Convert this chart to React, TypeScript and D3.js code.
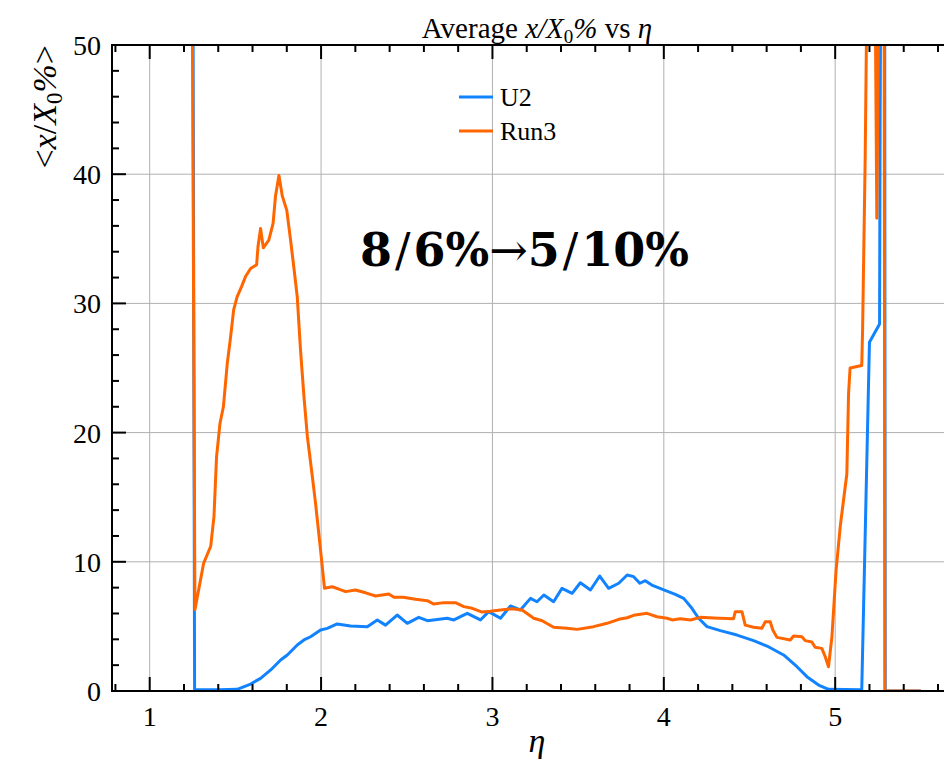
import React, { useRef, useEffect } from 'react';
import * as d3 from 'd3';

// U2 series (eta, <x/X0 %>)
const etaU2 = [1.25, 1.262, 1.4, 1.51, 1.589, 1.647, 1.706, 1.764, 1.803, 1.861, 1.9, 1.939, 1.997, 2.036, 2.094, 2.172, 2.27, 2.328, 2.376, 2.444, 2.503, 2.57, 2.62, 2.736, 2.775, 2.853, 2.93, 2.978, 3.047, 3.105, 3.163, 3.222, 3.26, 3.3, 3.357, 3.406, 3.465, 3.513, 3.572, 3.626, 3.678, 3.737, 3.786, 3.824, 3.86, 3.892, 3.93, 4.0, 4.067, 4.116, 4.164, 4.203, 4.252, 4.33, 4.427, 4.524, 4.602, 4.699, 4.777, 4.835, 4.903, 4.961, 5.155, 5.2, 5.259, 5.262, 5.27, 5.288, 5.292, 5.5];
const valU2 = [70, 0.1, 0.1, 0.13, 0.54, 0.98, 1.63, 2.4, 2.79, 3.56, 3.95, 4.2, 4.72, 4.85, 5.19, 5.03, 4.98, 5.5, 5.1, 5.88, 5.24, 5.7, 5.44, 5.63, 5.5, 6.01, 5.5, 6.14, 5.63, 6.58, 6.27, 7.17, 6.91, 7.43, 6.91, 7.95, 7.56, 8.38, 7.82, 8.9, 7.95, 8.34, 8.98, 8.85, 8.34, 8.54, 8.2, 7.82, 7.48, 7.17, 6.4, 5.63, 4.98, 4.67, 4.33, 3.9, 3.48, 2.79, 1.88, 1.11, 0.46, 0.13, 0.1, 27.0, 28.4, 43.1, 70, 70, 0, 0];

// Run3 series
const etaRun3 = [1.243, 1.264, 1.315, 1.356, 1.375, 1.39, 1.41, 1.43, 1.453, 1.472, 1.49, 1.51, 1.536, 1.56, 1.589, 1.624, 1.632, 1.647, 1.663, 1.695, 1.72, 1.734, 1.754, 1.774, 1.8, 1.822, 1.841, 1.861, 1.88, 1.9, 1.92, 1.949, 1.968, 1.997, 2.02, 2.065, 2.1, 2.143, 2.2, 2.26, 2.318, 2.395, 2.425, 2.48, 2.551, 2.62, 2.658, 2.716, 2.784, 2.833, 2.882, 2.94, 2.988, 3.047, 3.115, 3.173, 3.241, 3.29, 3.357, 3.435, 3.494, 3.59, 3.669, 3.737, 3.786, 3.824, 3.902, 3.96, 4.019, 4.048, 4.096, 4.155, 4.213, 4.29, 4.407, 4.417, 4.456, 4.475, 4.524, 4.572, 4.592, 4.621, 4.636, 4.66, 4.738, 4.757, 4.806, 4.825, 4.864, 4.883, 4.922, 4.942, 4.961, 4.981, 5.005, 5.03, 5.049, 5.068, 5.078, 5.087, 5.155, 5.16, 5.175, 5.19, 5.23, 5.243, 5.258, 5.285, 5.29, 5.5];
const valRun3 = [70, 6.3, 9.9, 11.2, 13.5, 18.1, 20.7, 22.0, 25.4, 27.4, 29.5, 30.5, 31.3, 32.1, 32.7, 33.0, 34.4, 35.8, 34.3, 34.9, 36.2, 38.3, 39.9, 38.3, 37.2, 34.9, 32.8, 30.5, 26.4, 22.8, 19.7, 16.6, 14.5, 10.9, 7.95, 8.07, 7.9, 7.69, 7.82, 7.6, 7.35, 7.5, 7.25, 7.25, 7.1, 6.99, 6.73, 6.84, 6.84, 6.53, 6.4, 6.11, 6.17, 6.27, 6.37, 6.27, 5.63, 5.44, 4.93, 4.85, 4.77, 4.98, 5.24, 5.55, 5.67, 5.86, 6.01, 5.75, 5.63, 5.5, 5.6, 5.5, 5.7, 5.65, 5.6, 6.14, 6.14, 5.1, 4.93, 4.85, 5.36, 5.36, 4.72, 4.15, 3.95, 4.26, 4.2, 3.9, 3.8, 3.38, 3.3, 2.65, 1.88, 4.2, 9.3, 12.8, 14.8, 16.8, 23.0, 25.0, 25.2, 28.0, 41.2, 60, 60, 36.6, 60, 60, 0, 0];

const xTicks = [1, 2, 3, 4, 5];
const yTicks = [0, 10, 20, 30, 40, 50];
const seriesNames = ['U2', 'Run3'];
const seriesColors = ['#1283ff', '#ff6600'];

const W = 944;
const H = 769;
const FONT = 'Liberation Serif, serif';

const App = () => {
  const svgRef = useRef<SVGSVGElement>(null);

  useEffect(() => {
    document.body.style.margin = '0';
    const svg = d3.select(svgRef.current);
    svg.selectAll('*').remove();

    const left = 112, right = 962, top = 45, bottom = 691;
    const x = d3.scaleLinear().domain([0.78, 5.74]).range([left, right]);
    const y = d3.scaleLinear().domain([0, 50]).range([bottom, top]);

    svg.append('clipPath').attr('id', 'plotclip')
      .append('rect').attr('x', left).attr('y', top)
      .attr('width', right - left).attr('height', bottom - top);

    // grid
    const grid = svg.append('g').attr('stroke', '#b0b0b0').attr('stroke-width', 1);
    xTicks.forEach(t => {
      grid.append('line').attr('x1', x(t)).attr('x2', x(t)).attr('y1', top).attr('y2', bottom);
    });
    yTicks.filter(t => t > 0 && t < 50).forEach(t => {
      grid.append('line').attr('x1', left).attr('x2', right).attr('y1', y(t)).attr('y2', y(t));
    });

    // lines
    const line = d3.line<[number, number]>()
      .x(d => x(d[0]))
      .y(d => y(d[1]));

    const plot = svg.append('g').attr('clip-path', 'url(#plotclip)');
    const series = [
      d3.zip(etaU2, valU2) as [number, number][],
      d3.zip(etaRun3, valRun3) as [number, number][],
    ];
    series.forEach((s, i) => {
      plot.append('path')
        .attr('d', line(s))
        .attr('fill', 'none')
        .attr('stroke', seriesColors[i])
        .attr('stroke-width', 3)
        .attr('stroke-linejoin', 'round');
    });

    // spines
    svg.append('rect')
      .attr('x', left).attr('y', top)
      .attr('width', right - left).attr('height', bottom - top)
      .attr('fill', 'none').attr('stroke', '#000').attr('stroke-width', 2);

    // ticks (inward, all sides)
    const ticks = svg.append('g').attr('stroke', '#000').attr('stroke-width', 2);
    const xMinor = d3.range(0.8, 5.75, 0.2);
    xMinor.forEach(t => {
      const major = Math.abs(t - Math.round(t)) < 1e-6;
      const len = major ? 14 : 7;
      ticks.append('line').attr('x1', x(t)).attr('x2', x(t)).attr('y1', bottom).attr('y2', bottom - len);
      ticks.append('line').attr('x1', x(t)).attr('x2', x(t)).attr('y1', top).attr('y2', top + len);
    });
    d3.range(0, 51, 2).forEach(t => {
      const major = t % 10 === 0;
      const len = major ? 14 : 7;
      ticks.append('line').attr('x1', left).attr('x2', left + len).attr('y1', y(t)).attr('y2', y(t));
      ticks.append('line').attr('x1', right).attr('x2', right - len).attr('y1', y(t)).attr('y2', y(t));
    });

    // tick labels
    xTicks.forEach(t => {
      svg.append('text').attr('x', x(t)).attr('y', bottom + 35)
        .attr('text-anchor', 'middle').attr('font-family', FONT).attr('font-size', 28)
        .text(String(t));
    });
    yTicks.forEach(t => {
      svg.append('text').attr('x', left - 11).attr('y', y(t) + 10)
        .attr('text-anchor', 'end').attr('font-family', FONT).attr('font-size', 28)
        .text(String(t));
    });

    // title
    const title = svg.append('text').attr('x', (left + right) / 2).attr('y', 38)
      .attr('text-anchor', 'middle').attr('font-family', FONT).attr('font-size', 29);
    title.append('tspan').text('Average ');
    title.append('tspan').attr('font-style', 'italic').text('x/X');
    title.append('tspan').attr('font-size', 19).attr('dy', 5).text('0');
    title.append('tspan').attr('font-style', 'italic').attr('dy', -5).text('%');
    title.append('tspan').text(' vs ');
    title.append('tspan').attr('font-style', 'italic').text('η');

    // y label
    const yl = svg.append('text')
      .attr('transform', `translate(56, ${top}) rotate(-90)`)
      .attr('text-anchor', 'end').attr('font-family', FONT).attr('font-size', 34);
    yl.append('tspan').text('<');
    yl.append('tspan').attr('font-style', 'italic').text('x');
    yl.append('tspan').text('/');
    yl.append('tspan').attr('font-style', 'italic').text('X');
    yl.append('tspan').attr('font-size', 23).attr('dy', 6).text('0');
    yl.append('tspan').attr('font-style', 'italic').attr('dy', -6).text('%');
    yl.append('tspan').text('>');

    // x label
    svg.append('text').attr('x', (left + right) / 2).attr('y', 752)
      .attr('text-anchor', 'middle').attr('font-family', FONT).attr('font-size', 34)
      .attr('font-style', 'italic').text('η');

    // legend
    seriesNames.forEach((name, i) => {
      const ly = 97 + i * 34;
      svg.append('line').attr('x1', 459).attr('x2', 493).attr('y1', ly).attr('y2', ly)
        .attr('stroke', seriesColors[i]).attr('stroke-width', 3);
      svg.append('text').attr('x', 500).attr('y', ly + 9)
        .attr('font-family', FONT).attr('font-size', 26).text(name);
    });

    // annotation
    const ann = svg.append('text').attr('x', 360).attr('y', 266)
      .attr('font-family', 'DejaVu Serif, serif').attr('font-size', 46);
    ann.append('tspan').attr('font-weight', 'bold').text('8');
    ann.append('tspan').attr('font-weight', 'normal').attr('dx', 3).text('/');
    ann.append('tspan').attr('font-weight', 'bold').attr('dx', 3).text('6%');
    ann.append('tspan').attr('font-weight', 'normal').text('→');
    ann.append('tspan').attr('font-weight', 'bold').text('5');
    ann.append('tspan').attr('font-weight', 'normal').attr('dx', 3).text('/');
    ann.append('tspan').attr('font-weight', 'bold').attr('dx', 3).text('10%');
  }, []);

  return <svg ref={svgRef} width={W} height={H} style={{ display: 'block' }} />;
};

export default App;
